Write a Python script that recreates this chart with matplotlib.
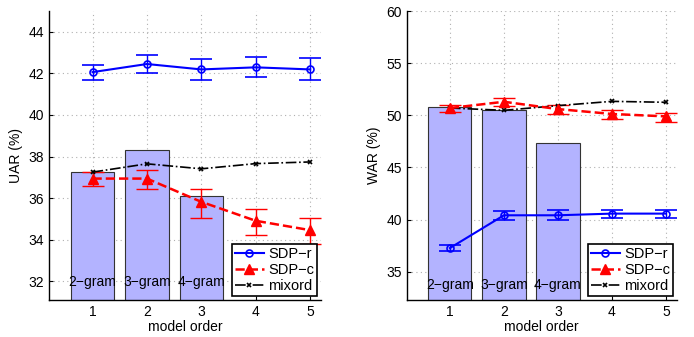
import numpy as np
import matplotlib
matplotlib.use('Agg')
import matplotlib.pyplot as plt
from matplotlib.lines import Line2D

plt.rcParams['font.family'] = ['Liberation Sans', 'DejaVu Sans']
plt.rcParams['font.size'] = 10

orders = [1, 2, 3, 4, 5]
bar_orders = [1, 2, 3]
bar_labels = ['2\u2212gram', '3\u2212gram', '4\u2212gram']
legend_labels = ['SDP\u2212r', 'SDP\u2212c', 'mixord']

# UAR panel
uar_bars = [37.26, 38.32, 36.1]
uar_sdpr = [42.06, 42.45, 42.19, 42.29, 42.19]
uar_sdpr_lo = [41.68, 42.03, 41.68, 41.81, 41.68]
uar_sdpr_hi = [42.38, 42.87, 42.69, 42.77, 42.72]
uar_sdpc = [36.94, 36.94, 35.82, 34.91, 34.46]
uar_sdpc_lo = [36.58, 36.46, 35.04, 34.22, 33.81]
uar_sdpc_hi = [37.28, 37.33, 36.45, 35.49, 35.06]
uar_mix = [37.25, 37.65, 37.41, 37.66, 37.74]

# WAR panel
war_bars = [50.77, 50.51, 47.35]
war_sdpr = [37.28, 40.42, 40.42, 40.58, 40.58]
war_sdpr_lo = [36.96, 39.97, 39.97, 40.16, 40.16]
war_sdpr_hi = [37.6, 40.8, 40.9, 40.96, 40.96]
war_sdpc = [50.7, 51.3, 50.6, 50.13, 49.9]
war_sdpc_lo = [50.33, 50.86, 50.1, 49.65, 49.35]
war_sdpc_hi = [51.03, 51.67, 51.0, 50.5, 50.25]
war_mix = [50.7, 50.48, 50.93, 51.34, 51.25]

W, H = 694, 337
fig = plt.figure(figsize=(W / 100, H / 100), dpi=100)

r_style = dict(color='blue', lw=1.5, marker='o', ms=5, mfc='none', mew=1.2)
c_style = dict(color='red', lw=1.8, ls='--', marker='^', ms=6.5, mfc='red')
m_style = dict(color='black', lw=1.2, ls='-.', marker='x', ms=3.5, mew=1.2)


def panel(rect, bars, r, rlo, rhi, c, clo, chi, mix, ylim, yticks, ylabel, text_y):
    ax = fig.add_axes(rect)
    ax.bar(bar_orders, bars, width=0.8, color='#b3b3ff', edgecolor='#333333',
           linewidth=0.8, zorder=1)
    for x, lab in zip(bar_orders, bar_labels):
        ax.text(x, text_y, lab, ha='center', va='center', zorder=5)
    r, c = np.array(r), np.array(c)
    ax.errorbar(orders, r, yerr=[r - np.array(rlo), np.array(rhi) - r],
                capsize=8, capthick=1, elinewidth=1, zorder=3, **r_style)
    ax.errorbar(orders, c, yerr=[c - np.array(clo), np.array(chi) - c],
                capsize=8, capthick=1, elinewidth=1, zorder=3, **c_style)
    ax.plot(orders, mix, zorder=3, **m_style)
    ax.set_xlim(0.2, 5.2)
    ax.set_ylim(*ylim)
    ax.set_xticks(orders)
    ax.set_yticks(yticks)
    ax.grid(True, color='#b0b0b0', lw=0.8, dashes=(1, 3))
    ax.set_axisbelow(True)
    ax.tick_params(direction='in', length=3, width=0.8, labelsize=10)
    for s in ('top', 'right'):
        ax.spines[s].set_visible(False)
    for s in ('left', 'bottom'):
        ax.spines[s].set_linewidth(1.0)
    ax.set_xlabel('model order', labelpad=1)
    ax.set_ylabel(ylabel, labelpad=4)
    handles = [Line2D([], [], **r_style), Line2D([], [], **c_style),
               Line2D([], [], **m_style)]
    leg = ax.legend(handles, legend_labels, loc='lower right', fancybox=False,
                    framealpha=1, edgecolor='black', fontsize=10.5,
                    handlelength=2.0, borderpad=0.2, labelspacing=0.15,
                    handletextpad=0.3, borderaxespad=0.25)
    leg.get_frame().set_linewidth(1.2)
    leg.set_zorder(10)
    return ax


panel([49 / W, 37 / H, 272 / W, 289 / H], uar_bars,
      uar_sdpr, uar_sdpr_lo, uar_sdpr_hi,
      uar_sdpc, uar_sdpc_lo, uar_sdpc_hi, uar_mix,
      (31.1, 45), [32, 34, 36, 38, 40, 42, 44], 'UAR (%)', 31.95)

panel([406.7 / W, 37 / H, 270 / W, 289 / H], war_bars,
      war_sdpr, war_sdpr_lo, war_sdpr_hi,
      war_sdpc, war_sdpc_lo, war_sdpc_hi, war_mix,
      (32.3, 60), [35, 40, 45, 50, 55, 60], 'WAR (%)', 33.7)

fig.savefig('out.png', dpi=100)
